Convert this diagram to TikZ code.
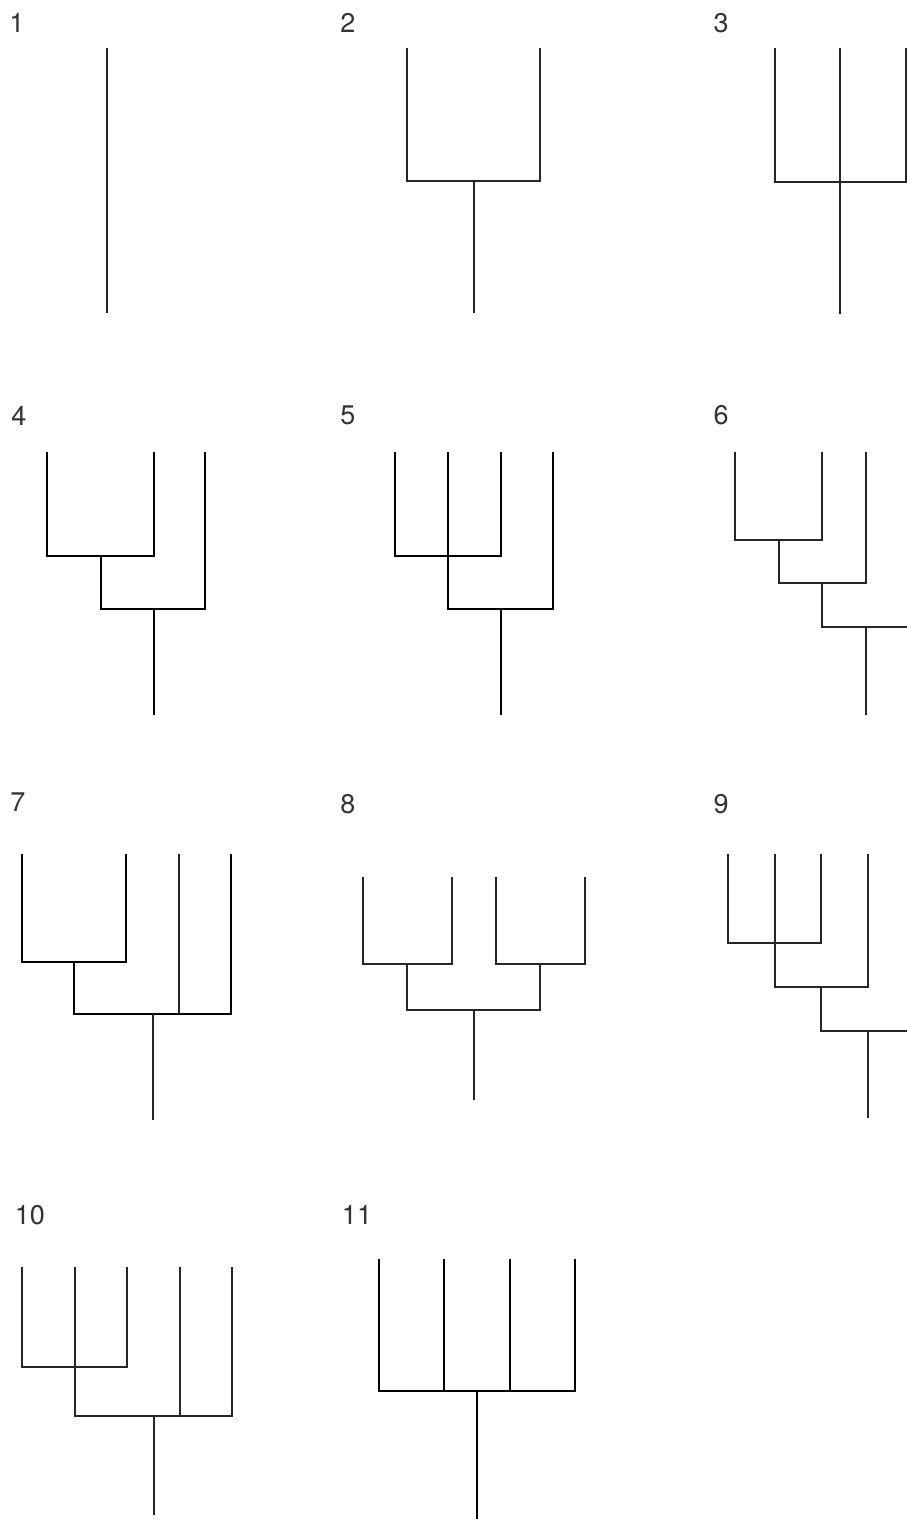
\documentclass[tikz,border=0pt]{standalone}
\usepackage{fontspec}
\setmainfont{TeX Gyre Heros}
\begin{document}
\begin{tikzpicture}[x=1pt,y=-1pt,
  br/.style={line width=1.6pt,draw=black!85},
  brk/.style={line width=2.1pt,draw=black},
  lbl/.style={inner sep=0pt,font=\fontsize{27}{27}\selectfont,text=black!80}]
\useasboundingbox (0,0) rectangle (907,1519);
% labels
\node[lbl] (l1) at (17,23) {1};
\node[lbl] (l2) at (348,23) {2};
\node[lbl] (l3) at (721,23) {3};
\node[lbl] (l4) at (19,416) {4};
\node[lbl] (l5) at (348,415) {5};
\node[lbl] (l6) at (721,415) {6};
\node[lbl] (l7) at (18,802) {7};
\node[lbl] (l8) at (348,804) {8};
\node[lbl] (l9) at (721,804) {9};
\node[lbl] (l10) at (30,1215) {10};
\node[lbl] (l11) at (357,1215) {11};
% ---- tree 1
\coordinate (a1) at (107,48); \coordinate (r1) at (107,313);
\draw[br] (a1) -- (r1);
% ---- tree 2
\coordinate (a2) at (407,48); \coordinate (b2) at (540,48);
\coordinate (a2c) at (407,181); \coordinate (b2c) at (540,181);
\coordinate (j2) at (474,181); \coordinate (r2) at (474,313);
\draw[br] (a2) -- (a2c) -- (b2c) -- (b2);
\draw[br] (j2) -- (r2);
% ---- tree 3
\coordinate (a3) at (775,48); \coordinate (b3) at (840,48); \coordinate (c3) at (906,48);
\coordinate (a3c) at (775,182); \coordinate (c3c) at (906,182);
\coordinate (r3) at (840,314);
\draw[br] (a3) -- (a3c) -- (c3c) -- (c3);
\draw[br] (b3) -- (r3);
% ---- tree 4
\coordinate (a4) at (47,452); \coordinate (b4) at (154,452); \coordinate (c4) at (205,452);
\coordinate (a4c) at (47,556); \coordinate (b4c) at (154,556);
\coordinate (j4) at (101,556); \coordinate (j4c) at (101,609);
\coordinate (c4c) at (205,609); \coordinate (k4) at (154,609); \coordinate (r4) at (154,715);
\draw[brk] (a4) -- (a4c) -- (b4c) -- (b4);
\draw[brk] (j4) -- (j4c) -- (c4c) -- (c4);
\draw[brk] (k4) -- (r4);
% ---- tree 5
\coordinate (a5) at (395,452); \coordinate (b5) at (448,452); \coordinate (c5) at (501,452); \coordinate (d5) at (553,452);
\coordinate (a5c) at (395,556); \coordinate (c5c) at (501,556);
\coordinate (b5c) at (448,609); \coordinate (d5c) at (553,609);
\coordinate (k5) at (501,609); \coordinate (r5) at (501,715);
\draw[brk] (a5) -- (a5c) -- (c5c) -- (c5);
\draw[brk] (b5) -- (b5c) -- (d5c) -- (d5);
\draw[brk] (k5) -- (r5);
% ---- tree 6
\coordinate (a6) at (735,452); \coordinate (b6) at (822,452); \coordinate (c6) at (866,452);
\coordinate (a6c) at (735,540); \coordinate (b6c) at (822,540);
\coordinate (j6) at (779,540); \coordinate (j6c) at (779,583); \coordinate (c6c) at (866,583);
\coordinate (k6) at (822,583); \coordinate (k6c) at (822,627); \coordinate (e6) at (907,627);
\coordinate (m6) at (866,627); \coordinate (r6) at (866,715);
\draw[br] (a6) -- (a6c) -- (b6c) -- (b6);
\draw[br] (j6) -- (j6c) -- (c6c) -- (c6);
\draw[br] (k6) -- (k6c) -- (e6);
\draw[br] (m6) -- (r6);
% ---- tree 7
\coordinate (a7) at (22,854); \coordinate (b7) at (126,854); \coordinate (c7) at (179,854); \coordinate (d7) at (231,854);
\coordinate (a7c) at (22,962); \coordinate (b7c) at (126,962);
\coordinate (j7) at (74,962); \coordinate (j7c) at (74,1014); \coordinate (d7c) at (231,1014);
\coordinate (c7c) at (179,1014); \coordinate (k7) at (153,1014); \coordinate (r7) at (153,1120);
\draw[brk] (a7) -- (a7c) -- (b7c) -- (b7);
\draw[brk] (j7) -- (j7c) -- (d7c) -- (d7);
\draw[br] (c7) -- (c7c);
\draw[br] (k7) -- (r7);
% ---- tree 8
\coordinate (a8) at (363,877); \coordinate (b8) at (452,877); \coordinate (c8) at (496,877); \coordinate (d8) at (585,877);
\coordinate (a8c) at (363,964); \coordinate (b8c) at (452,964); \coordinate (c8c) at (496,964); \coordinate (d8c) at (585,964);
\coordinate (j8) at (407,964); \coordinate (j8c) at (407,1010);
\coordinate (m8) at (540,964); \coordinate (m8c) at (540,1010);
\coordinate (k8) at (474,1010); \coordinate (r8) at (474,1100);
\draw[br] (a8) -- (a8c) -- (b8c) -- (b8);
\draw[br] (c8) -- (c8c) -- (d8c) -- (d8);
\draw[br] (j8) -- (j8c) -- (m8c) -- (m8);
\draw[br] (k8) -- (r8);
% ---- tree 9
\coordinate (a9) at (728,854); \coordinate (b9) at (775,854); \coordinate (c9) at (821,854); \coordinate (d9) at (868,854);
\coordinate (a9c) at (728,943); \coordinate (c9c) at (821,943);
\coordinate (b9c) at (775,987); \coordinate (d9c) at (868,987);
\coordinate (k9) at (821,987); \coordinate (k9c) at (821,1031); \coordinate (e9) at (907,1031);
\coordinate (m9) at (868,1031); \coordinate (r9) at (868,1118);
\draw[br] (a9) -- (a9c) -- (c9c) -- (c9);
\draw[br] (b9) -- (b9c) -- (d9c) -- (d9);
\draw[br] (k9) -- (k9c) -- (e9);
\draw[br] (m9) -- (r9);
% ---- tree 10
\coordinate (a10) at (22,1267); \coordinate (b10) at (75,1267); \coordinate (c10) at (127,1267);
\coordinate (d10) at (180,1267); \coordinate (e10) at (232,1267);
\coordinate (a10c) at (22,1367); \coordinate (c10c) at (127,1367);
\coordinate (b10c) at (75,1416); \coordinate (e10c) at (232,1416);
\coordinate (d10c) at (180,1416); \coordinate (k10) at (154,1416); \coordinate (r10) at (154,1515);
\draw[br] (a10) -- (a10c) -- (c10c) -- (c10);
\draw[br] (b10) -- (b10c) -- (e10c) -- (e10);
\draw[br] (d10) -- (d10c);
\draw[br] (k10) -- (r10);
% ---- tree 11
\coordinate (a11) at (379,1259); \coordinate (b11) at (444,1259); \coordinate (c11) at (510,1259); \coordinate (d11) at (575,1259);
\coordinate (a11c) at (379,1391); \coordinate (b11c) at (444,1391); \coordinate (c11c) at (510,1391); \coordinate (d11c) at (575,1391);
\coordinate (k11) at (477,1391); \coordinate (r11) at (477,1519);
\draw[brk] (a11) -- (a11c) -- (d11c) -- (d11);
\draw[brk] (b11) -- (b11c);
\draw[brk] (c11) -- (c11c);
\draw[brk] (k11) -- (r11);
\end{tikzpicture}
\end{document}
